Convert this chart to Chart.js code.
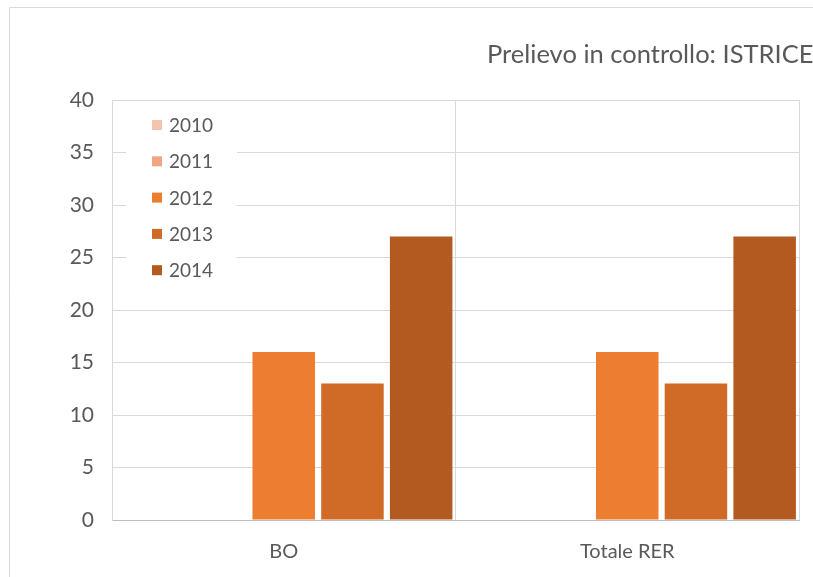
<!DOCTYPE html>
<html>
<head>
<meta charset="utf-8">
<script src="https://cdn.jsdelivr.net/npm/chart.js@4"></script>
<style>
  html, body { margin: 0; padding: 0; background: #fff; }
  #wrap { width: 813px; height: 577px; position: relative; }
</style>
</head>
<body>
<div id="wrap"><canvas id="chart" width="813" height="577" aria-label="bar chart" role="img"></canvas></div>
<script>
const chartTitle = 'Prelievo in controllo: ISTRICE';
const categories = ['BO', 'Totale RER'];
const years = ['2010', '2011', '2012', '2013', '2014'];
const values2010 = [0, 0];
const values2011 = [0, 0];
const values2012 = [16, 16];
const values2013 = [13, 13];
const values2014 = [27, 27];
const yTicks = [0, 5, 10, 15, 20, 25, 30, 35, 40];

const seriesValues = [values2010, values2011, values2012, values2013, values2014];
const colors = ['#F5C4AE', '#F1A583', '#ED7D31', '#D06B27', '#B35A20'];

const FONT = 'Lato, "Open Sans", sans-serif';
const TEXT = '#595959';
const GRID = '#D9D9D9';

// outer frame + title, drawn on the canvas
const framePlugin = {
  id: 'frame',
  beforeDraw(chart) {
    const ctx = chart.ctx;
    ctx.save();
    ctx.fillStyle = '#fff';
    ctx.fillRect(0, 0, chart.width, chart.height);
    ctx.strokeStyle = GRID;
    ctx.lineWidth = 1;
    ctx.beginPath();
    ctx.moveTo(9.5, chart.height);
    ctx.lineTo(9.5, 7.5);
    ctx.lineTo(chart.width, 7.5);
    ctx.stroke();
    ctx.restore();
  },
  afterDraw(chart) {
    const ctx = chart.ctx;
    ctx.save();
    ctx.fillStyle = TEXT;
    ctx.font = '25.5px ' + FONT;
    ctx.textAlign = 'left';
    ctx.textBaseline = 'middle';
    ctx.fillText(chartTitle, 487, 55);
    ctx.restore();
  }
};

// legend inside the plot area, top-left
const innerLegend = {
  id: 'innerLegend',
  afterDatasetsDraw(chart) {
    const ctx = chart.ctx;
    const area = chart.chartArea;
    const x0 = area.left + 14;
    const y0 = area.top + 8;
    ctx.save();
    ctx.fillStyle = '#fff';
    ctx.fillRect(x0, y0, 111, 180);
    ctx.font = '19px ' + FONT;
    ctx.textBaseline = 'middle';
    chart.data.datasets.forEach((ds, i) => {
      const cy = area.top + 25 + i * 36.3;
      ctx.fillStyle = ds.backgroundColor;
      ctx.fillRect(area.left + 40, cy - 5, 10, 10);
      ctx.fillStyle = TEXT;
      ctx.fillText(ds.label, area.left + 57, cy + 1);
    });
    ctx.restore();
  }
};

new Chart(document.getElementById('chart'), {
  type: 'bar',
  data: {
    labels: categories,
    datasets: years.map((y, i) => ({
      label: y,
      data: seriesValues[i],
      backgroundColor: colors[i],
      borderWidth: 0,
      categoryPercentage: 1.0,
      barPercentage: 0.91
    }))
  },
  options: {
    responsive: false,
    animation: false,
    layout: { padding: { left: 0, top: 100, right: 14, bottom: 0 } },
    plugins: {
      legend: { display: false },
      title: { display: false },
      tooltip: { enabled: false }
    },
    scales: {
      x: {
        grid: { color: GRID, offset: true, drawTicks: false },
        border: { color: '#BFBFBF' },
        ticks: { color: TEXT, font: { family: FONT, size: 20 }, padding: 20 },
        afterFit(scale) { scale.height = 57; }
      },
      y: {
        min: 0,
        max: 40,
        afterBuildTicks(scale) { scale.ticks = yTicks.map(v => ({ value: v })); },
        grid: { color: GRID, drawTicks: false },
        border: { color: GRID },
        ticks: { color: TEXT, font: { family: FONT, size: 21 }, padding: 18 },
        afterFit(scale) { scale.width = 112; }
      }
    }
  },
  plugins: [framePlugin, innerLegend]
});
</script>
</body>
</html>
